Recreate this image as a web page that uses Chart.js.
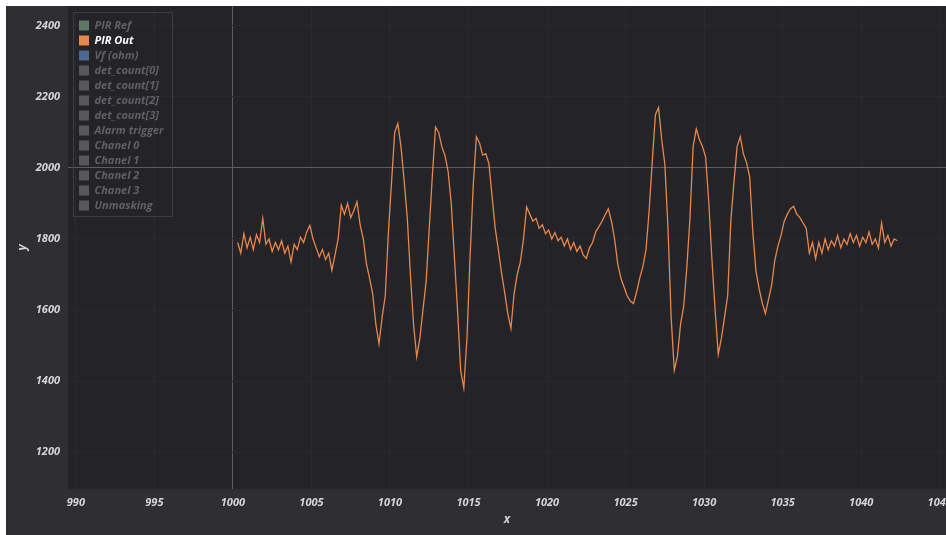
<!DOCTYPE html>
<html>
<head>
<meta charset="utf-8">
<script src="https://cdn.jsdelivr.net/npm/chart.js@4"></script>
<style>
  html, body { margin: 0; padding: 0; background: #ffffff; }
  #wrap { position: absolute; left: 6px; top: 6px; width: 940px; height: 529px; }
</style>
</head>
<body>
<div id="wrap"><canvas id="myChart" width="940" height="529"></canvas></div>
<script>
// legend entries, only "PIR Out" carries data in this capture
const seriesNames = ['PIR Ref', 'PIR Out', 'Vf (ohm)', 'det_count[0]', 'det_count[1]', 'det_count[2]', 'det_count[3]', 'Alarm trigger', 'Chanel 0', 'Chanel 1', 'Chanel 2', 'Chanel 3', 'Unmasking']
const seriesColors = ['#5d7866', '#e8874c', '#4e6790', '#58585c', '#58585c', '#58585c', '#58585c', '#58585c', '#58585c', '#58585c', '#58585c', '#58585c', '#58585c']

// samples every 0.2 starting at x = 1000.3
const startX = 1000.3
const stepX = 0.2
const pirOut = [
  1790, 1760, 1815, 1775, 1805,
  1770, 1812, 1790, 1858, 1785,
  1800, 1765, 1790, 1770, 1795,
  1760, 1780, 1735, 1785, 1770,
  1805, 1790, 1820, 1838, 1800,
  1775, 1750, 1770, 1742, 1760,
  1712, 1755, 1800, 1895, 1870,
  1900, 1860, 1880, 1905, 1840,
  1800, 1730, 1690, 1645, 1560,
  1505, 1580, 1640, 1820, 1960,
  2100, 2125, 2060, 1965, 1860,
  1700, 1560, 1468, 1520, 1600,
  1680, 1830, 1980, 2115, 2100,
  2060, 2035, 1990, 1900, 1750,
  1600, 1430, 1380, 1520, 1750,
  1950, 2088, 2070, 2036, 2040,
  2012, 1920, 1830, 1770, 1705,
  1650, 1590, 1548, 1645, 1700,
  1735, 1800, 1890, 1870, 1850,
  1858, 1830, 1840, 1815, 1825,
  1800, 1818, 1795, 1805, 1780,
  1800, 1770, 1790, 1765, 1780,
  1755, 1745, 1775, 1790, 1820,
  1835, 1850, 1868, 1885, 1850,
  1800, 1730, 1690, 1665, 1640,
  1625, 1618, 1650, 1690, 1722,
  1770, 1880, 2020, 2150, 2170,
  2080, 2010, 1830, 1580, 1430,
  1470, 1560, 1610, 1720, 1860,
  2060, 2110, 2080, 2060, 2030,
  1900, 1740, 1600, 1475, 1520,
  1580, 1640, 1850, 1960, 2060,
  2088, 2040, 2015, 1975, 1820,
  1710, 1660, 1620, 1590, 1630,
  1670, 1740, 1780, 1810, 1850,
  1870, 1885, 1892, 1870, 1860,
  1845, 1830, 1760, 1790, 1745,
  1790, 1760, 1800, 1770, 1795,
  1780, 1810, 1775, 1800, 1785,
  1815, 1790, 1810, 1780, 1805,
  1790, 1820, 1785, 1800, 1775,
  1845, 1790, 1810, 1780, 1800,
  1795
]

const xTicks = [990, 995, 1000, 1005, 1010, 1015, 1020, 1025, 1030, 1035, 1040, 1045]
const yTicks = [1200, 1400, 1600, 1800, 2000, 2200, 2400]
const xRange = [989.5, 1045.4]
const yRange = [1096, 2456]
const cursorX = 1000
const cursorY = 2000

const tickFont = { family: 'Open Sans', size: 11, weight: 'bold', style: 'italic' }
const titleFont = { family: 'Open Sans', size: 12, weight: 'bold', style: 'italic' }

const bgPlugin = {
  id: 'bg',
  beforeDraw: (chart) => {
    const { ctx, chartArea } = chart
    ctx.save()
    ctx.fillStyle = '#2e2e33'
    ctx.fillRect(0, 0, chart.width, chart.height)
    ctx.fillStyle = '#232328'
    ctx.fillRect(chartArea.left, chartArea.top, chartArea.right - chartArea.left, chartArea.bottom - chartArea.top)
    ctx.restore()
  },
  afterLayout: (chart) => {
    // nudge the in-plot legend a little away from the corner
    const lg = chart.legend
    lg.left += 7; lg.right += 7
    lg.top += 10; lg.bottom += 10
  },
  afterDraw: (chart) => {
    const boxes = chart.legend.legendHitBoxes
    if (!boxes || !boxes.length) return
    let l = Infinity, t = Infinity, r = -Infinity, b = -Infinity
    boxes.forEach(h => {
      l = Math.min(l, h.left); t = Math.min(t, h.top)
      r = Math.max(r, h.left + h.width); b = Math.max(b, h.top + h.height)
    })
    const ctx = chart.ctx
    ctx.save()
    ctx.strokeStyle = '#3c3c42'
    ctx.lineWidth = 1
    ctx.strokeRect(Math.round(l - 6) + 0.5, Math.round(t - 8) + 0.5, Math.round(r - l + 14), Math.round(b - t + 13))
    ctx.restore()
  }
}

const datasets = seriesNames.map((name, i) => ({
  label: name,
  data: i === 1 ? pirOut.map((v, k) => ({ x: +(startX + k * stepX).toFixed(1), y: v })) : [],
  borderColor: seriesColors[i],
  backgroundColor: seriesColors[i],
  borderWidth: 1.3,
  pointRadius: 0,
  tension: 0
}))

const ctx = document.getElementById('myChart').getContext('2d')
new Chart(ctx, {
  type: 'line',
  data: { datasets: datasets },
  options: {
    responsive: false,
    animation: false,
    layout: { padding: 0 },
    scales: {
      x: {
        type: 'linear',
        min: xRange[0],
        max: xRange[1],
        afterBuildTicks: (s) => { s.ticks = xTicks.map(v => ({ value: v })) },
        afterFit: (s) => { s.height = 46; s.paddingLeft = 0; s.paddingRight = 0 },
        ticks: { maxRotation: 0, autoSkip: false, padding: 7, color: '#d6d6d6', font: tickFont, callback: (v) => String(v) },
        grid: {
          drawTicks: false,
          color: (c) => c.tick && c.tick.value === cursorX ? '#5c5c62' : '#29292f'
        },
        border: { display: false },
        title: { display: true, text: 'x', color: '#d6d6d6', font: titleFont, padding: { top: 0, bottom: 8 } }
      },
      y: {
        min: yRange[0],
        max: yRange[1],
        afterBuildTicks: (s) => { s.ticks = yTicks.map(v => ({ value: v })) },
        afterFit: (s) => { s.width = 62; s.paddingTop = 0; s.paddingBottom = 0 },
        ticks: { autoSkip: false, padding: 8, color: '#d6d6d6', font: tickFont, callback: (v) => String(v) },
        grid: {
          drawTicks: false,
          color: (c) => c.tick && c.tick.value === cursorY ? '#5c5c62' : '#29292f'
        },
        border: { display: false },
        title: { display: true, text: 'y', color: '#d6d6d6', font: titleFont, padding: { top: 9, bottom: 0 } }
      }
    },
    plugins: {
      tooltip: { enabled: false },
      legend: {
        position: 'chartArea',
        align: 'start',
        labels: {
          boxWidth: 10,
          boxHeight: 10,
          padding: 4,
          font: { family: 'Open Sans', size: 11, style: 'italic', weight: 'bold' },
          generateLabels: (chart) => chart.data.datasets.map((ds, i) => ({
            text: ds.label,
            fillStyle: ds.backgroundColor,
            strokeStyle: ds.backgroundColor,
            lineWidth: 0,
            hidden: false,
            fontColor: i === 1 ? '#ffffff' : '#606066',
            datasetIndex: i
          }))
        }
      }
    }
  },
  plugins: [bgPlugin]
})
</script>
</body>
</html>
